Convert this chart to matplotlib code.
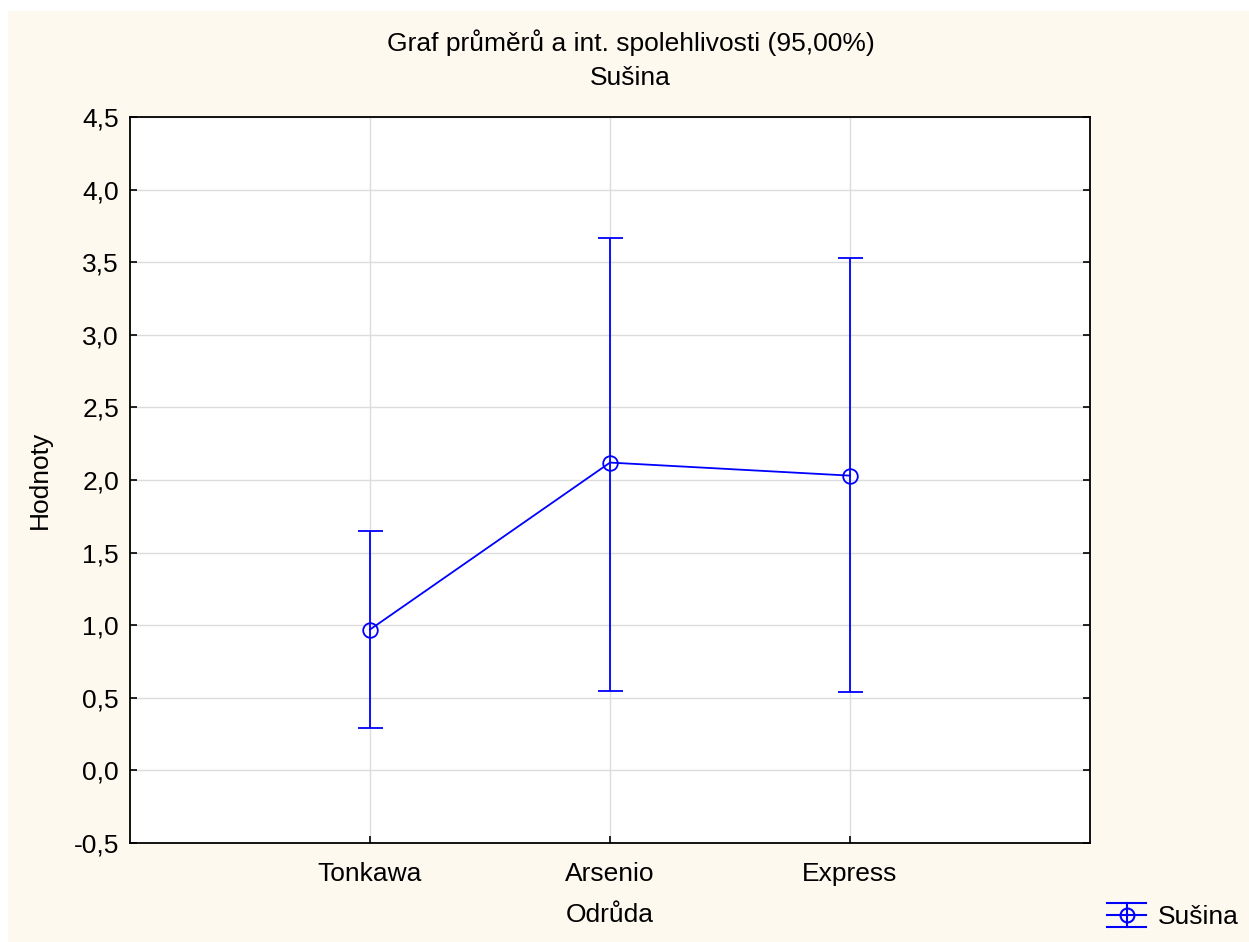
import numpy as np
import matplotlib.pyplot as plt
from matplotlib.patches import Rectangle
from matplotlib.lines import Line2D
from matplotlib.legend_handler import HandlerBase
from matplotlib.ticker import FuncFormatter

plt.rcParams['font.family'] = ['Liberation Sans', 'DejaVu Sans']

# values
varieties = ['Tonkawa', 'Arsenio', 'Express']
means = np.array([0.97, 2.12, 2.03])
ci_low = np.array([0.29, 0.55, 0.54])
ci_high = np.array([1.65, 3.67, 3.53])
y_ticks = [-0.5, 0.0, 0.5, 1.0, 1.5, 2.0, 2.5, 3.0, 3.5, 4.0, 4.5]

blue = '#0000ff'
cream = '#fef9ef'
fs = 19


class MeanCIHandler(HandlerBase):
    # legend symbol: three horizontal lines, short vertical bar, open circle
    def create_artists(self, legend, orig, xd, yd, w, h, fontsize, trans):
        yc = h / 2 - yd
        dy = h * 0.65
        arts = []
        for y in (yc - dy, yc, yc + dy):
            arts.append(Line2D([-xd, w - xd], [y, y], color=blue, lw=1.5))
        arts.append(Line2D([w / 2 - xd] * 2, [yc - dy, yc + dy], color=blue, lw=1.5))
        arts.append(Line2D([w / 2 - xd], [yc], marker='o', ms=10, mfc='none',
                           mec=blue, mew=1.5, ls='none'))
        for a in arts:
            a.set_transform(trans)
        return arts


fig = plt.figure(figsize=(12.49, 9.42), dpi=100)
fig.patch.set_facecolor('white')
fig.patches.append(Rectangle((8 / 1249, 0), 1 - 8 / 1249, 1 - 11 / 942,
                             transform=fig.transFigure, facecolor=cream,
                             edgecolor='none', zorder=-10))

ax = fig.add_axes([130 / 1249, 1 - 843 / 942, 960 / 1249, 726 / 942])
ax.set_facecolor('white')

x = np.arange(1, len(varieties) + 1)
err = np.vstack([means - ci_low, ci_high - means])
eb = ax.errorbar(x, means, yerr=err, color=blue, lw=1.3, elinewidth=1.3,
                 capsize=9, capthick=1.3, marker='o', ms=10.5, mfc='none',
                 mec=blue, mew=1.3, zorder=3)

ax.set_xlim(0, 4)
ax.set_ylim(-0.5, 4.5)
ax.set_xticks(x)
ax.set_xticklabels(varieties)
ax.set_yticks(y_ticks)
ax.yaxis.set_major_formatter(FuncFormatter(lambda v, p: f'{v:.1f}'.replace('.', ',')))

ax.grid(True, color='#dcdcdc', lw=1.0, zorder=0)
ax.set_axisbelow(True)
ax.tick_params(direction='in', length=5, width=1.2, labelsize=fs,
               right=True, pad=8)
ax.tick_params(axis='x', pad=14)
for s in ax.spines.values():
    s.set_linewidth(1.3)

fig.text(0.505, 1 - 43 / 942, 'Graf průměrů a int. spolehlivosti (95,00%)',
         ha='center', va='center', fontsize=fs)
fig.text(0.505, 1 - 78 / 942, 'Sušina', ha='center', va='center', fontsize=fs)
fig.text(610 / 1249, 1 - 915 / 942, 'Odrůda', ha='center', va='center', fontsize=fs)
fig.text(40 / 1249, 1 - 480 / 942, 'Hodnoty', ha='center', va='center',
         rotation=90, fontsize=fs)

fig.legend([eb], ['Sušina'], handler_map={type(eb): MeanCIHandler()},
           loc='center right', bbox_to_anchor=(1.0, 1 - 917 / 942),
           frameon=False, fontsize=fs, handlelength=1.45, handletextpad=0.45,
           borderaxespad=0.0)

fig.savefig('out.png', dpi=100, facecolor=fig.get_facecolor())
